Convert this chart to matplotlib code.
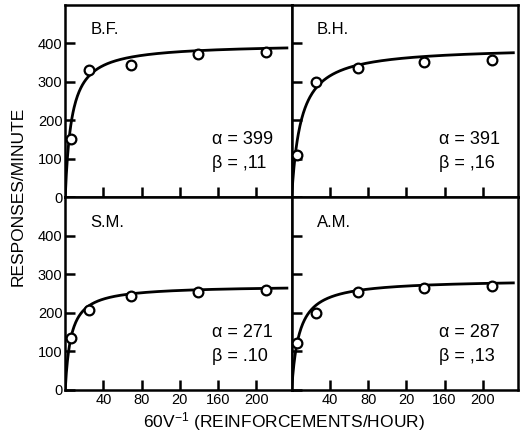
import numpy as np
import matplotlib
matplotlib.use("Agg")
import matplotlib.pyplot as plt

plt.rcParams['font.family'] = ['Liberation Sans', 'DejaVu Sans']
plt.rcParams['mathtext.default'] = 'regular'

# reinforcement rates (60/V, reinforcements per hour)
rates = [6, 25, 69, 139, 210]

subjects = ["B.F.", "B.H.", "S.M.", "A.M."]
responses = {
    "B.F.": [152, 331, 343, 373, 378],
    "B.H.": [109, 300, 335, 352, 357],
    "S.M.": [134, 206, 244, 254, 259],
    "A.M.": [121, 199, 253, 265, 269],
}
alphas = {"B.F.": 399, "B.H.": 391, "S.M.": 271, "A.M.": 287}
betas = {"B.F.": .11, "B.H.": .16, "S.M.": .10, "A.M.": .13}
beta_labels = {"B.F.": ",11", "B.H.": ",16", "S.M.": ".10", "A.M.": ",13"}

x_ticks = [40, 80, 120, 160, 200]
x_tick_labels = ["40", "80", "20", "160", "200"]
y_ticks = [0, 100, 200, 300, 400]

fig, axes = plt.subplots(2, 2, figsize=(5.26, 4.37), dpi=100, sharex=True, sharey=True)
fig.subplots_adjust(left=0.124, right=0.985, top=0.989, bottom=0.108, wspace=0, hspace=0)

r_fit = np.linspace(0, 232, 400)

for ax, name in zip(axes.flat, subjects):
    a = alphas[name]
    b = betas[name]
    # fitted curve R = a*r / (r + 60*b)
    ax.plot(r_fit, a * r_fit / (r_fit + 60 * b), color='black', lw=2, zorder=2)
    ax.plot(rates, responses[name], 'o', ms=7, mfc='white', mec='black', mew=1.6, zorder=3)
    ax.text(0.11, 0.87, name, transform=ax.transAxes, fontsize=12, va='center')
    ax.text(0.65, 0.30, f"\u03b1 = {a}", transform=ax.transAxes, fontsize=13, va='center')
    ax.text(0.65, 0.175, f"\u03b2 = {beta_labels[name]}", transform=ax.transAxes,
            fontsize=13, va='center')
    for s in ax.spines.values():
        s.set_linewidth(1.8)
    ax.tick_params(direction='in', length=7, width=1.8, labelsize=10.5, top=False, right=False, pad=2)

axes[0, 0].set_xlim(0, 237)
axes[0, 0].set_ylim(0, 500)
axes[0, 0].set_yticks(y_ticks)
axes[0, 0].set_xticks(x_ticks)
axes[1, 0].set_xticklabels(x_tick_labels)

fig.text(0.035, 0.55, "RESPONSES/MINUTE", rotation=90, fontsize=12.5, ha='center', va='center')
fig.text(0.54, 0.035, "60V$^{-1}$ (REINFORCEMENTS/HOUR)", fontsize=12.5, ha='center', va='center')

fig.savefig("out.png", dpi=100)
